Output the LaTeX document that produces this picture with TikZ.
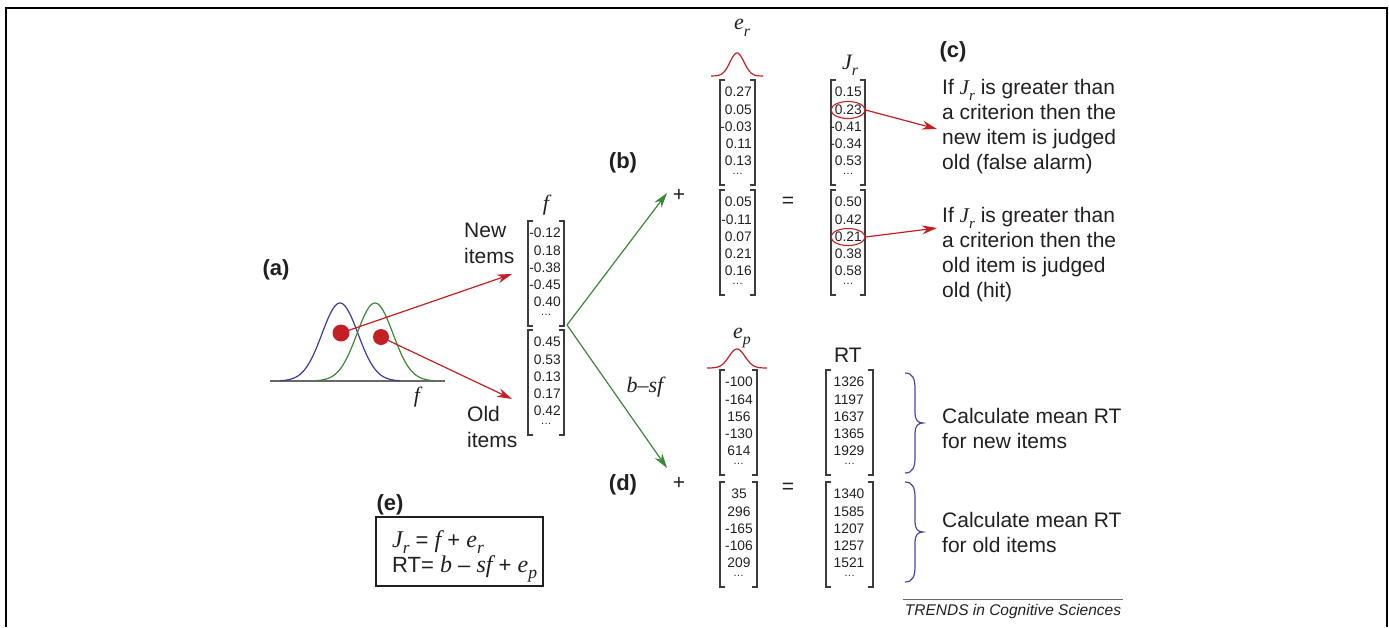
\documentclass[tikz,border=0pt]{standalone}
\usepackage{fontspec}
\setmainfont{Liberation Sans}
\newfontfamily\tms{Liberation Serif}
\usepackage{graphicx}
\usetikzlibrary{arrows.meta,shapes.geometric}
\definecolor{mred}{RGB}{196,32,36}
\definecolor{mgreen}{RGB}{58,135,55}
\definecolor{mblue}{RGB}{62,60,150}
\definecolor{bracec}{RGB}{72,70,160}
\definecolor{brkc}{RGB}{60,60,60}
\definecolor{axisc}{RGB}{105,105,105}
\definecolor{textc}{RGB}{35,31,32}
\newcommand\itl[1]{{\tms\itshape #1}}
\newcommand\isub[2]{\itl{#1}\raisebox{-0.55ex}{\scalebox{0.72}{\itl{#2}}}}
\newcommand\dotsz{\fontsize{11}{11}\selectfont}
\tikzset{
  txt/.style={font=\fontsize{21}{25}\selectfont, text=textc, inner sep=0pt},
  etxt/.style={font=\fontsize{22}{26}\selectfont, text=textc, inner sep=0pt},
  lbl/.style={font=\fontsize{22}{26}\selectfont\bfseries, text=textc, inner sep=0pt},
  num/.style={font=\fontsize{13.8}{16}\selectfont, text=textc, inner sep=0pt},
  dotnode/.style={num, text height=1.5pt, text depth=0pt},
  sym/.style={font=\fontsize{22}{26}\selectfont, text=textc, inner sep=0pt},
  matbox/.style={inner sep=0pt, outer sep=0pt, minimum height=105pt},
  brk/.style={draw=brkc, line width=1.3pt},
  redarrow/.style={draw=mred, line width=1.2pt, -{Stealth[length=15pt,width=9pt]}},
  greenarrow/.style={draw=mgreen, line width=1.2pt, -{Stealth[length=15pt,width=9pt]}},
  bracepath/.style={draw=bracec, line width=1.2pt},
}
\newcommand\mkmat[7]{%
  \pgfmathsetmacro\mw{#3-#2}%
  \pgfmathsetmacro\mx{(#2+#3)/2}%
  \pgfmathsetmacro\my{#4+52.5}%
  \node[matbox, minimum width=\mw pt] (#1) at (\mx,\my) {};
  \draw[brk] ([xshift=5pt]#1.north west) -- (#1.north west) -- (#1.south west) -- ([xshift=5pt]#1.south west);
  \draw[brk] ([xshift=-5pt]#1.north east) -- (#1.north east) -- (#1.south east) -- ([xshift=-5pt]#1.south east);
  \foreach \v [count=\i] in {#7} {\node[num, anchor=#6] (#1-\i) at (#5,{#4+16.8+17.2*(\i-1)}) {\v};}
  \node[dotnode, anchor=base] (#1-d) at (\mx,{#4+94}) {\dotsz …};
}
\newcommand\mybrace[1]{%
  \begin{scope}[shift={(0,#1)}]
  \draw[bracepath] (905,0) .. controls (913,0) and (915,6) .. (915,16) -- (915,40)
     .. controls (915,47) and (918,50) .. (923,50)
     .. controls (918,50) and (915,53) .. (915,60) -- (915,84)
     .. controls (915,94) and (913,100) .. (905,100);
  \end{scope}
}
\begin{document}
\begin{tikzpicture}[x=1pt,y=-1pt]
\path[use as bounding box] (0,0) rectangle (1389,627);
% frame
\draw[line width=1.6pt] (6,627) -- (6,8) -- (1387,8) -- (1387,627);

% (a) distributions
\node[lbl] (la) at (276,270) {(a)};
\draw[axisc, line width=1.5pt] (270,381) -- (445,381);
\draw[mblue, line width=1.2pt] plot[domain=-60:60, samples=90, smooth] ({340+\x},{381-78*exp(-(\x*\x)/648)});
\draw[mgreen, line width=1.2pt] plot[domain=-60:60, samples=90, smooth] ({375+\x},{381-78*exp(-(\x*\x)/648)});
\node[sym] (fax) at (417,397) {\itl{f}};
\node[circle, fill=mred, minimum size=17pt, inner sep=0pt] (dot1) at (341,333) {};
\node[circle, fill=mred, minimum size=16pt, inner sep=0pt] (dot2) at (381,337) {};
\coordinate (newtip) at (512,274);
\coordinate (oldtip) at (512,399);
\draw[redarrow] (dot1.center) -- (newtip);
\draw[redarrow] (dot2.center) -- (oldtip);

\node[txt, anchor=base west] (new1) at (464,237) {New};
\node[txt, anchor=base west] (new2) at (464,263) {items};
\node[txt, anchor=base west] (old1) at (467,421) {Old};
\node[txt, anchor=base west] (old2) at (467,447) {items};

% f matrix
\node[sym] (flbl) at (546,205) {\itl{f}};
\mkmat{f1}{528}{564}{221}{561}{base east}{-0.12,0.18,-0.38,-0.45,0.40}
\mkmat{f2}{528}{564}{330}{561}{base east}{0.45,0.53,0.13,0.17,0.42}

% green arrows
\coordinate (fj) at (567,325);
\coordinate (gup) at (667,193);
\coordinate (gdn) at (667,468);
\draw[greenarrow] (fj) -- (gup);
\draw[greenarrow] (fj) -- (gdn);
\node[sym] (bsf) at (645,387) {\itl{b–sf}};

% (b)
\node[lbl] (lb) at (623,163) {(b)};
\node[txt] (plus1) at (679,195) {+};
\node[txt] (eq1) at (788,202) {=};
\node[sym] (erl) at (742,28) {\isub{e}{r}};
\draw[mred, line width=1.2pt] plot[domain=-26:26, samples=60, smooth] ({737+\x},{76-23*exp(-(\x*\x)/98)});
\mkmat{er1}{720}{755}{80}{752}{base east}{0.27,0.05,-0.03,0.11,0.13}
\mkmat{er2}{720}{755}{190}{752}{base east}{0.05,-0.11,0.07,0.21,0.16}
\node[sym] (jrl) at (850,65) {\isub{J}{r}};
\mkmat{j1}{831}{865}{80}{862}{base east}{0.15,0.23,-0.41,-0.34,0.53}
\mkmat{j2}{831}{865}{190}{862}{base east}{0.50,0.42,0.21,0.38,0.58}
\node[ellipse, draw=mred, line width=1.1pt, minimum width=34pt, minimum height=17pt, inner sep=0pt] (ell1) at (848,110) {};
\node[ellipse, draw=mred, line width=1.1pt, minimum width=34pt, minimum height=17pt, inner sep=0pt] (ell2) at (848,237) {};
\coordinate (c1tip) at (937,129);
\coordinate (c2tip) at (937,228);
\draw[redarrow] (ell1.east) -- (c1tip);
\draw[redarrow] (ell2.east) -- (c2tip);

% (c)
\node[lbl] (lc) at (953,52) {(c)};
\node[txt, anchor=base west] (c11) at (942,94) {If \isub{J}{r} is greater than};
\node[txt, anchor=base west] (c12) at (942,119) {a criterion then the};
\node[txt, anchor=base west] (c13) at (942,144) {new item is judged};
\node[txt, anchor=base west] (c14) at (942,169) {old (false alarm)};
\node[txt, anchor=base west] (c21) at (942,222) {If \isub{J}{r} is greater than};
\node[txt, anchor=base west] (c22) at (942,247) {a criterion then the};
\node[txt, anchor=base west] (c23) at (942,272) {old item is judged};
\node[txt, anchor=base west] (c24) at (942,297) {old (hit)};

% (d)
\node[lbl] (ld) at (623,485) {(d)};
\node[txt] (plus2) at (679,483) {+};
\node[txt] (eq2) at (788,488) {=};
\node[sym] (epl) at (742,338) {\isub{e}{p}};
\draw[mred, line width=1.2pt] plot[domain=-30:30, samples=60, smooth] ({737+\x},{368-19*exp(-(\x*\x)/128)});
\mkmat{ep1}{720}{757}{370}{739}{base}{-100,-164,156,-130,614}
\mkmat{ep2}{720}{757}{482}{739}{base}{35,296,-165,-106,209}
\node[txt] (rtl) at (848,355) {RT};
\mkmat{rt1}{826}{873}{370}{849}{base}{1326,1197,1637,1365,1929}
\mkmat{rt2}{826}{873}{482}{849}{base}{1340,1585,1207,1257,1521}

\mybrace{373}
\mybrace{482}
\node[txt, anchor=base west] (m11) at (942,423) {Calculate mean RT};
\node[txt, anchor=base west] (m12) at (942,448) {for new items};
\node[txt, anchor=base west] (m21) at (942,527) {Calculate mean RT};
\node[txt, anchor=base west] (m22) at (942,552) {for old items};

% (e)
\node[lbl] (le) at (390,505) {(e)};
\node[draw=textc, line width=1.2pt, minimum width=167pt, minimum height=69pt, inner sep=0pt] (ebox) at (459.5,551.5) {};
\node[etxt, anchor=base west] (eqa) at (392,547) {\fontsize{24}{26}\selectfont\isub{J}{r}\fontsize{22}{26}\selectfont\ = \itl{\fontsize{24}{26}\selectfont f} + \itl{\fontsize{24}{26}\selectfont e}\raisebox{-0.55ex}{\scalebox{0.8}{\itl{r}}}};
\node[etxt, anchor=base west] (eqb) at (392,572) {RT=\ \itl{\fontsize{24}{26}\selectfont b} – \itl{\fontsize{24}{26}\selectfont sf} + \itl{\fontsize{24}{26}\selectfont e}\raisebox{-0.55ex}{\scalebox{0.8}{\itl{p}}}};

% credit
\draw[axisc, line width=0.8pt] (903,599) -- (1123,599);
\node[font=\fontsize{15.5}{18}\selectfont\itshape, text=textc, inner sep=0pt] (trends) at (1013,611) {TRENDS in Cognitive Sciences};
\end{tikzpicture}
\end{document}
